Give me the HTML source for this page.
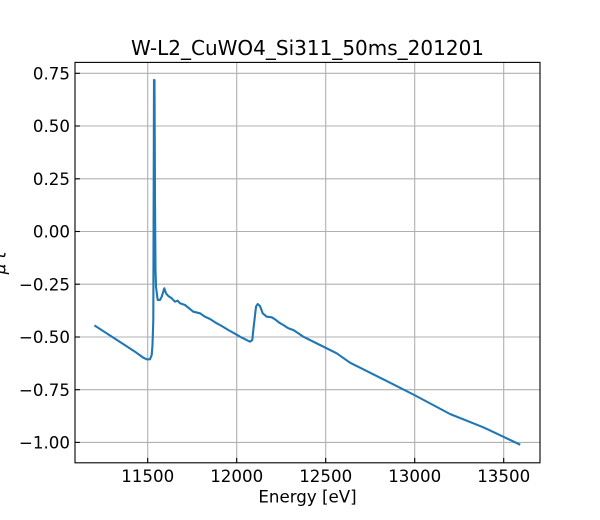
<!DOCTYPE html>
<html>
<head>
<meta charset="utf-8">
<style>
html,body{margin:0;padding:0;background:#fff;}
svg{display:block;}
text{font-family:"DejaVu Sans","Liberation Sans",sans-serif;fill:#000;}
</style>
</head>
<body>
<svg width="600" height="520" viewBox="0 0 600 520" xmlns="http://www.w3.org/2000/svg">
<rect x="0" y="0" width="600" height="520" fill="#fff"/>
<!-- grid -->
<g stroke="#b0b0b0" stroke-width="1.1" fill="none">
<line x1="147.7" y1="62.4" x2="147.7" y2="462.8"/>
<line x1="236.7" y1="62.4" x2="236.7" y2="462.8"/>
<line x1="325.7" y1="62.4" x2="325.7" y2="462.8"/>
<line x1="414.7" y1="62.4" x2="414.7" y2="462.8"/>
<line x1="503.7" y1="62.4" x2="503.7" y2="462.8"/>
<line x1="75" y1="73.3" x2="540" y2="73.3"/>
<line x1="75" y1="126.0" x2="540" y2="126.0"/>
<line x1="75" y1="178.8" x2="540" y2="178.8"/>
<line x1="75" y1="231.5" x2="540" y2="231.5"/>
<line x1="75" y1="284.2" x2="540" y2="284.2"/>
<line x1="75" y1="337.0" x2="540" y2="337.0"/>
<line x1="75" y1="389.7" x2="540" y2="389.7"/>
<line x1="75" y1="442.4" x2="540" y2="442.4"/>
</g>
<!-- data -->
<polyline fill="none" stroke="#1f77b4" stroke-width="2.1" stroke-linejoin="round" stroke-linecap="square"
points="95.3,326 135,351.7 143,357.5 146.7,359.3 150,359.3 151.7,355 152.5,345 153.3,320 154,80 154.5,80 155,200 155.5,270 156,286.7 157.7,300 160,300 161.7,296.7 164.3,288.3 166,293.3 168.3,296 171.7,298.3 175,301.7 177.7,300.7 180,303.3 185,305 188.3,307.7 193.3,311.7 200,313.3 205,316.7 210,319 215,322.3 221.7,326 228.3,330 236.7,334.7 240,336.7 250,341.7 252.3,340 253.3,330 256,306.7 257.7,304 260,306 262.7,313.3 266.7,316.7 271.7,317.3 275,319.3 279.3,322.7 283.3,325 288.3,328.3 293.3,330 298.3,333.3 303.3,336.7 320,345 336.7,353.3 350,362.7 363.3,369.3 383.3,379.3 414.3,395 450,414 483.3,427.3 503.3,436.7 519.3,444.3"/>
<!-- ticks (inward) -->
<g stroke="#000" stroke-width="1.1">
<line x1="147.7" y1="462.8" x2="147.7" y2="457.9"/>
<line x1="236.7" y1="462.8" x2="236.7" y2="457.9"/>
<line x1="325.7" y1="462.8" x2="325.7" y2="457.9"/>
<line x1="414.7" y1="462.8" x2="414.7" y2="457.9"/>
<line x1="503.7" y1="462.8" x2="503.7" y2="457.9"/>
<line x1="75" y1="73.3" x2="79.9" y2="73.3"/>
<line x1="75" y1="126.0" x2="79.9" y2="126.0"/>
<line x1="75" y1="178.8" x2="79.9" y2="178.8"/>
<line x1="75" y1="231.5" x2="79.9" y2="231.5"/>
<line x1="75" y1="284.2" x2="79.9" y2="284.2"/>
<line x1="75" y1="337.0" x2="79.9" y2="337.0"/>
<line x1="75" y1="389.7" x2="79.9" y2="389.7"/>
<line x1="75" y1="442.4" x2="79.9" y2="442.4"/>
</g>
<!-- spines -->
<rect x="75" y="62.4" width="465" height="400.4" fill="none" stroke="#000" stroke-width="1.1"/>
<!-- y tick labels -->
<g font-size="16.67" text-anchor="end">
<text x="70" y="79.4">0.75</text>
<text x="70" y="132.1">0.50</text>
<text x="70" y="184.9">0.25</text>
<text x="70" y="237.6">0.00</text>
<text x="70" y="290.3">−0.25</text>
<text x="70" y="343.1">−0.50</text>
<text x="70" y="395.8">−0.75</text>
<text x="70" y="448.5">−1.00</text>
</g>
<!-- x tick labels -->
<g font-size="16.67" text-anchor="middle">
<text x="147.7" y="482">11500</text>
<text x="236.7" y="482">12000</text>
<text x="325.7" y="482">12500</text>
<text x="414.7" y="482">13000</text>
<text x="503.7" y="482">13500</text>
</g>
<text x="307.5" y="502.5" font-size="16.67" text-anchor="middle">Energy [eV]</text>
<text transform="translate(5.5,263) rotate(-90)" font-size="16.67" font-style="italic" text-anchor="middle">μ t</text>
<text x="307.5" y="55" font-size="20" text-anchor="middle">W-L2_CuWO4_Si311_50ms_201201</text>
</svg>
</body>
</html>
